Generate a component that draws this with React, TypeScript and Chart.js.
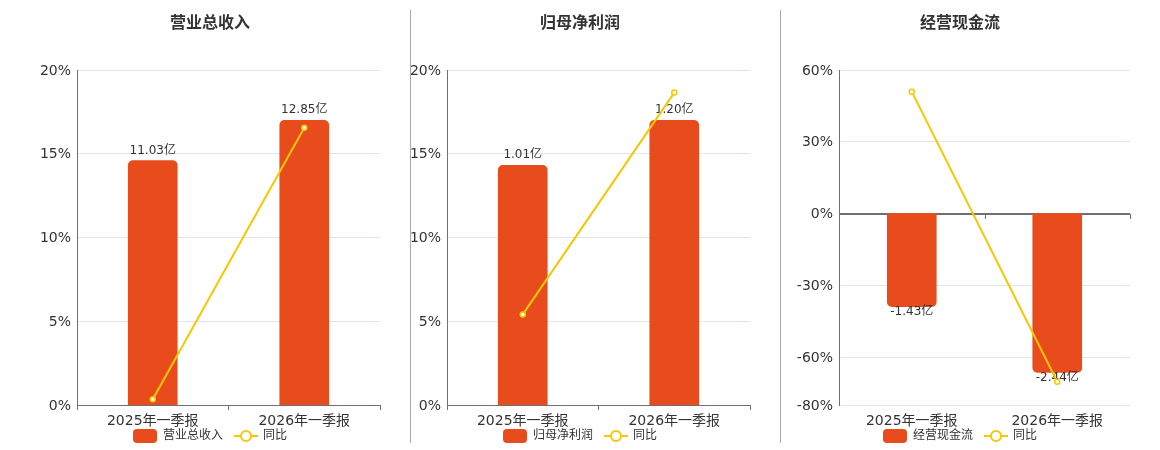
import React, { useEffect, useRef } from "react";
import { Chart, registerables } from "chart.js";

Chart.register(...registerables);

const categories = ["2025年一季报", "2026年一季报"];
const titles = ["营业总收入", "归母净利润", "经营现金流"];
const yoyLabel = "同比";
const revenueValues = [11.03, 12.85];
const revenueYoY = [0.34, 16.55];
const profitValues = [1.01, 1.2];
const profitYoY = [5.41, 18.65];
const cashValues = [-1.43, -2.44];
const cashYoY = [50.96, -70.3];
const pctTicksPos = [0, 5, 10, 15, 20];
const pctTicksMixed = [-80, -60, -30, 0, 30, 60];

const FONT = '"DejaVu Sans", "Noto Sans CJK SC", sans-serif';
const BAR_COLOR = "#E84C1C";
const LINE_COLOR = "#F5C800";
const AXIS_COLOR = "#6E7079";
const GRID_COLOR = "#E0E6F1";
const TEXT_COLOR = "#333";

type PanelProps = {
  title: string;
  values: number[];
  yoy: number[];
  ticks: number[];
  left: number;
  width: number;
  plotLeft: number;
  plotRight: number;
  center: number;
  fill: number;
};

function Panel(props: PanelProps) {
  const ref = useRef<HTMLCanvasElement | null>(null);
  useEffect(() => {
    const canvas = ref.current;
    if (!canvas) return;
    const { title, values, yoy, ticks, width, plotLeft, plotRight, center, fill } = props;
    const pMin = Math.min(...ticks);
    const pMax = Math.max(...ticks);
    const hasNeg = pMin < 0;
    let y1min = 0;
    let y1max = 1;
    if (!hasNeg) {
      y1max = Math.max(...values) / fill;
    } else {
      y1min = Math.min(...values) / fill;
      y1max = (-y1min * pMax) / -pMin;
    }

    const overlay = {
      id: "overlay",
      afterDatasetDraw(chart: any, args: any) {
        if (args.index !== 1) return;
        const ctx = chart.ctx;
        const meta = chart.getDatasetMeta(1);
        ctx.save();
        ctx.font = `12px ${FONT}`;
        ctx.fillStyle = TEXT_COLOR;
        ctx.textAlign = "center";
        ctx.textBaseline = "middle";
        meta.data.forEach((el: any, i: number) => {
          const v = values[i];
          const txt = v.toFixed(2) + "亿";
          if (v >= 0) ctx.fillText(txt, el.x, el.y - 10);
          else ctx.fillText(txt, el.x, el.y + 5);
        });
        ctx.restore();
      },
      afterDraw(chart: any) {
        const ctx = chart.ctx;
        const area = chart.chartArea;
        ctx.save();
        if (hasNeg) {
          const y0 = Math.round(chart.scales.y.getPixelForValue(0));
          ctx.strokeStyle = AXIS_COLOR;
          ctx.lineWidth = 1;
          const n = categories.length;
          for (let i = 1; i <= n; i++) {
            const x = Math.round(area.left + ((area.right - area.left) * i) / n) + 0.5;
            ctx.beginPath();
            ctx.moveTo(x, y0);
            ctx.lineTo(x, y0 + 5);
            ctx.stroke();
          }
        }
        ctx.font = `bold 16px ${FONT}`;
        ctx.fillStyle = TEXT_COLOR;
        ctx.textAlign = "center";
        ctx.textBaseline = "middle";
        ctx.fillText(title, center, 24);
        ctx.font = `12px ${FONT}`;
        const ly = 436;
        const t1 = ctx.measureText(title).width;
        const t2 = ctx.measureText(yoyLabel).width;
        const total = 24 + 6 + t1 + 11 + 24 + 5 + t2;
        let x = center - total / 2;
        ctx.fillStyle = BAR_COLOR;
        ctx.beginPath();
        (ctx as any).roundRect(x, ly - 7, 24, 14, 4);
        ctx.fill();
        x += 30;
        ctx.fillStyle = TEXT_COLOR;
        ctx.textAlign = "left";
        ctx.fillText(title, x, ly);
        x += t1 + 11;
        ctx.strokeStyle = LINE_COLOR;
        ctx.lineWidth = 2;
        ctx.beginPath();
        ctx.moveTo(x, ly);
        ctx.lineTo(x + 24, ly);
        ctx.stroke();
        ctx.beginPath();
        ctx.arc(x + 12, ly, 5, 0, Math.PI * 2);
        ctx.fillStyle = "#fff";
        ctx.fill();
        ctx.stroke();
        x += 29;
        ctx.fillStyle = TEXT_COLOR;
        ctx.fillText(yoyLabel, x, ly);
        ctx.restore();
      },
    };

    const chart = new Chart(canvas, {
      type: "bar",
      data: {
        labels: categories,
        datasets: [
          {
            type: "line",
            label: yoyLabel,
            data: yoy,
            yAxisID: "y",
            borderColor: LINE_COLOR,
            borderWidth: 2,
            pointRadius: 2.5,
            pointBorderWidth: 1.5,
            pointBackgroundColor: "#fff",
            pointBorderColor: LINE_COLOR,
            tension: 0,
            order: 0,
          } as any,
          {
            type: "bar",
            label: title,
            data: values,
            yAxisID: "y1",
            backgroundColor: BAR_COLOR,
            borderRadius: 5,
            borderSkipped: "start",
            barThickness: 49,
            order: 1,
          } as any,
        ],
      },
      options: {
        responsive: false,
        animation: false,
        devicePixelRatio: 1,
        layout: {
          padding: { left: 0, right: width - plotRight, top: 70, bottom: 20 },
        },
        plugins: {
          legend: { display: false },
          title: { display: false },
          tooltip: { enabled: false },
        },
        scales: {
          x: {
            offset: true,
            grid: {
              display: !hasNeg,
              drawOnChartArea: false,
              drawTicks: true,
              tickLength: 5,
              color: AXIS_COLOR,
              offset: true,
            },
            border: { display: !hasNeg, color: AXIS_COLOR, width: 1 },
            ticks: {
              color: TEXT_COLOR,
              font: { size: 14, family: FONT },
              padding: 3,
              maxRotation: 0,
            },
            afterFit(scale: any) {
              scale.height = 25;
            },
          },
          y: {
            min: pMin,
            max: pMax,
            afterBuildTicks(scale: any) {
              scale.ticks = ticks.map((v) => ({ value: v }));
            },
            grid: {
              drawTicks: false,
              color: (c: any) => (hasNeg && c.tick && c.tick.value === 0 ? AXIS_COLOR : GRID_COLOR),
              lineWidth: (c: any) => (hasNeg && c.tick && c.tick.value === 0 ? 2 : 1),
            },
            border: { display: true, color: AXIS_COLOR, width: 1 },
            ticks: {
              color: TEXT_COLOR,
              font: { size: 14, family: FONT },
              padding: 6,
              labelOffset: 1,
              callback: (v: any) => v + "%",
            },
            afterFit(scale: any) {
              scale.width = plotLeft;
            },
          },
          y1: {
            display: false,
            min: y1min,
            max: y1max,
          },
        },
      },
      plugins: [overlay],
    } as any);
    return () => chart.destroy();
  }, []);
  return (
    <canvas
      ref={ref}
      width={props.width}
      height={450}
      style={{ position: "absolute", left: props.left, top: 0, width: props.width, height: 450 }}
    />
  );
}

export default function App() {
  return (
    <div style={{ position: "absolute", left: 0, top: 0, width: 1160, height: 450, background: "#fff" }}>
      <Panel title={titles[0]} values={revenueValues} yoy={revenueYoY} ticks={pctTicksPos}
        left={0} width={410} plotLeft={77} plotRight={380} center={210} fill={0.85} />
      <Panel title={titles[1]} values={profitValues} yoy={profitYoY} ticks={pctTicksPos}
        left={410} width={370} plotLeft={37} plotRight={340} center={170} fill={0.85} />
      <Panel title={titles[2]} values={cashValues} yoy={cashYoY} ticks={pctTicksMixed}
        left={780} width={380} plotLeft={59} plotRight={350} center={180} fill={0.83} />
      <div style={{ position: "absolute", left: 410, top: 10, width: 1, height: 433, background: "#aaa" }} />
      <div style={{ position: "absolute", left: 780, top: 10, width: 1, height: 433, background: "#aaa" }} />
    </div>
  );
}
